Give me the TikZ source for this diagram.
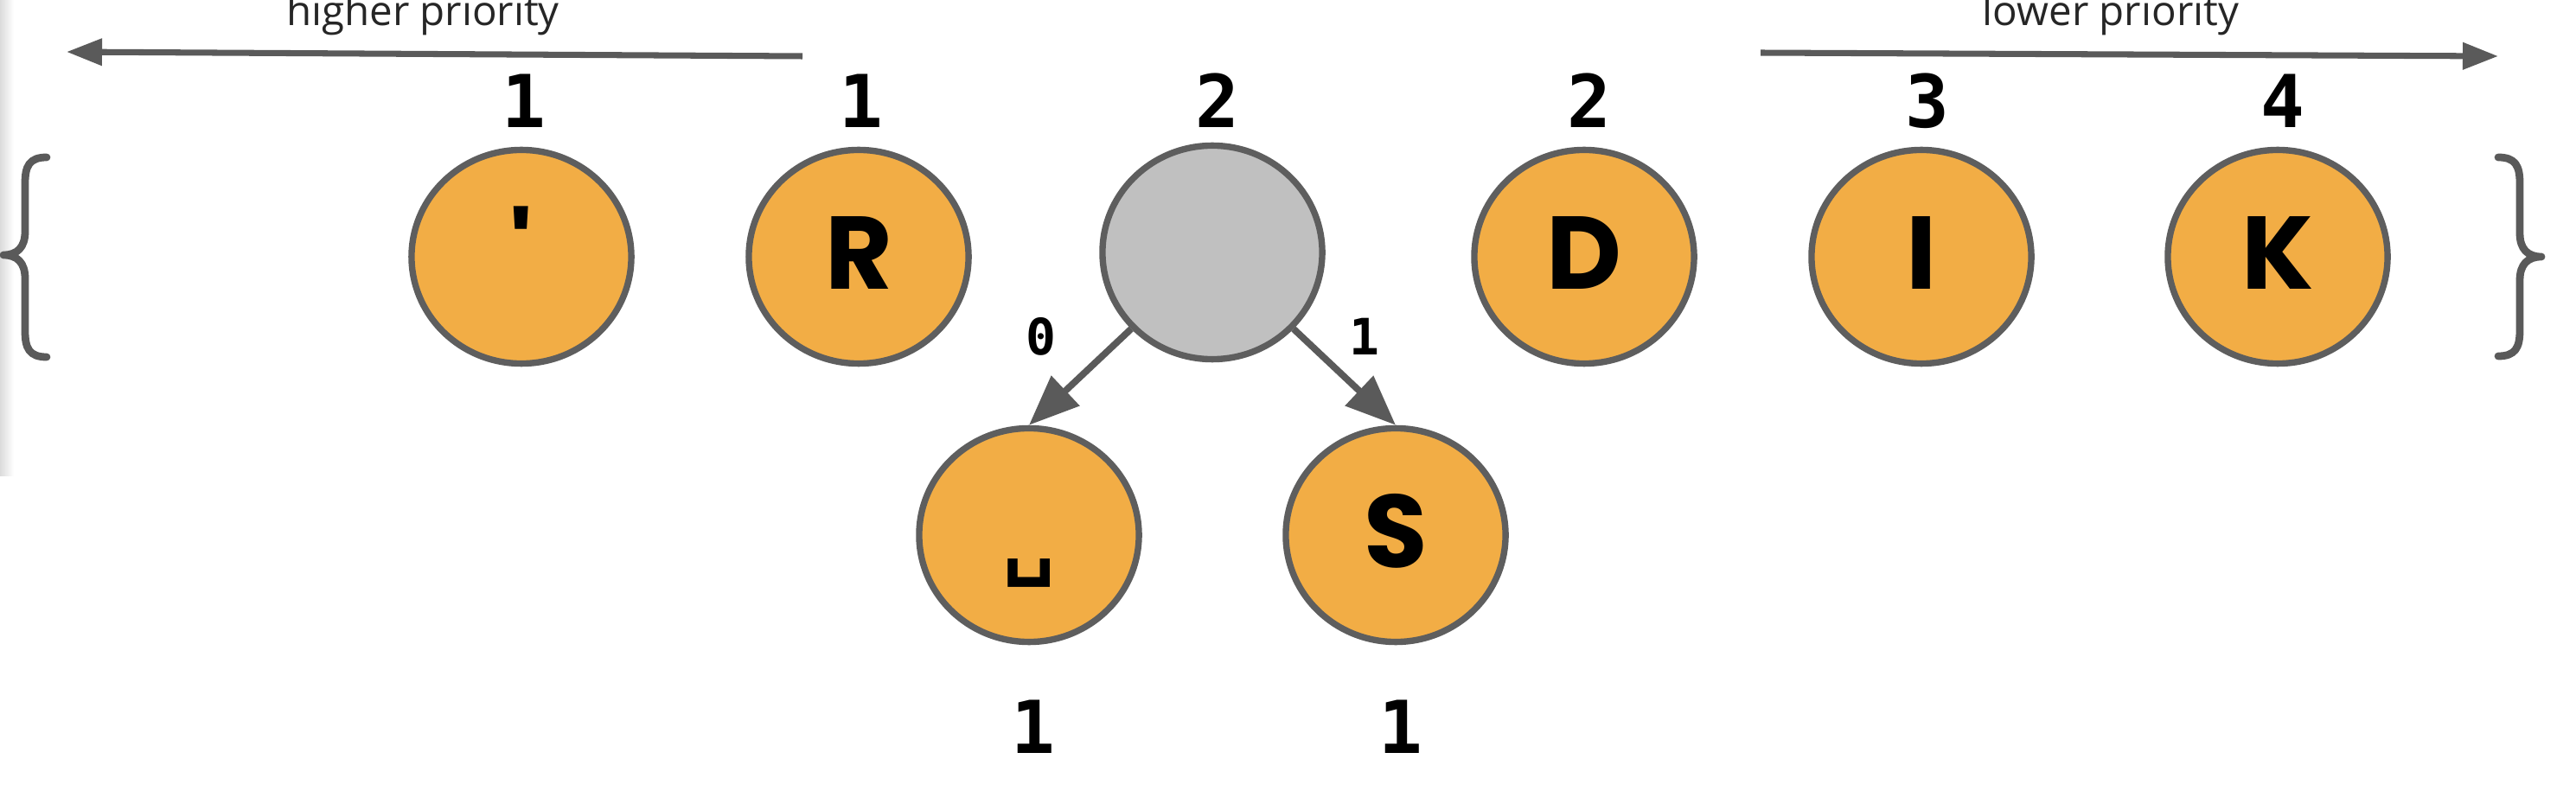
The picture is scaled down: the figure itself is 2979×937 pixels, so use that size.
\documentclass[tikz,border=0pt]{standalone}
\usepackage{fontspec}
\usetikzlibrary{arrows.meta,shapes.geometric}
\newfontfamily\letterfont{Poppins}[Ligatures=TeXOff]
\newfontfamily\numfont{DejaVu Sans Mono}
\newfontfamily\labelfont{Open Sans}
\definecolor{nodeorange}{HTML}{F2AD45}
\definecolor{nodegray}{HTML}{C0C0C0}
\definecolor{outline}{HTML}{5E5E5E}
\definecolor{arrowgray}{HTML}{5A5A5A}
\tikzset{
  leaf/.style={ellipse, draw=outline, line width=2.1pt, fill=nodeorange,
    minimum width=2.54cm, minimum height=2.47cm, inner sep=0pt,
    font=\letterfont\bfseries\fontsize{34}{34}\selectfont,
    text height=21.5pt, text depth=0pt},
  internal/.style={leaf, fill=nodegray},
  count/.style={font=\numfont\bfseries\fontsize{24}{24}\selectfont, anchor=base, inner sep=0pt},
  bitlabel/.style={font=\numfont\bfseries\fontsize{16.5}{16.5}\selectfont, anchor=base, inner sep=0pt},
  priority/.style={font=\labelfont\fontsize{13.5}{13.5}\selectfont, anchor=base, inner sep=0pt, text=black!85},
  treearrow/.style={draw=arrowgray, line width=2.2pt, -{Triangle[length=0.58cm,width=0.46cm]}},
  prioarrow/.style={draw=arrowgray, line width=2pt, -{Triangle[length=0.41cm,width=0.30cm]}},
  setbrace/.style={draw=arrowgray, line width=2.5pt, line cap=round, line join=round},
}
\begin{document}
\begin{tikzpicture}[x=0.01cm, y=-0.01cm]
\useasboundingbox (0,0) rectangle (2979,937);
% window edge strip
\shade[left color=black!14, right color=white] (0,0) rectangle (16,550);
% priority arrows
\node[priority] (hp) at (489,30) {higher priority};
\node[priority] (lp) at (2441,30) {lower priority};
\coordinate (hpstart) at (928,65);
\coordinate (hpend) at (77,60);
\coordinate (lpstart) at (2036,61);
\coordinate (lpend) at (2889,65);
\draw[prioarrow] (hpstart) -- (hpend);
\draw[prioarrow] (lpstart) -- (lpend);
% braces
\draw[setbrace] (54,182) .. controls (34,182) and (29,192) .. (29,212) -- (29,268)
   .. controls (29,286) and (20,295) .. (4,295)
   .. controls (20,295) and (29,304) .. (29,322) -- (29,383)
   .. controls (29,403) and (34,413) .. (54,413);
\draw[setbrace] (2889,182) .. controls (2909,182) and (2914,192) .. (2914,212) -- (2914,270)
   .. controls (2914,288) and (2923,297) .. (2939,297)
   .. controls (2923,297) and (2914,306) .. (2914,324) -- (2914,382)
   .. controls (2914,402) and (2909,412) .. (2889,412);
% nodes
\node[leaf] (apos) at (603,297) {\textquotesingle};
\node[leaf] (R) at (993,297) {R};
\node[internal] (int) at (1402,292) {};
\node[leaf] (D) at (1832,297) {D};
\node[leaf] (I) at (2222,297) {I};
\node[leaf] (K) at (2634,297) {K};
\node[leaf] (space) at (1190,619) {{\numfont\bfseries\fontsize{28}{28}\selectfont ␣}};
\node[leaf] (S) at (1614,619) {S};
% counts
\node[count] (capos) at (606,148) {1};
\node[count] (cR) at (996,148) {1};
\node[count] (cint) at (1408,148) {2};
\node[count] (cD) at (1838,148) {2};
\node[count] (cI) at (2229,148) {3};
\node[count] (cK) at (2640,148) {4};
\node[count] (cspace) at (1195,871) {1};
\node[count] (cS) at (1620,871) {1};
% tree edges
\draw[treearrow] (int) -- (space.north);
\draw[treearrow] (int) -- (S.north);
\node[bitlabel] (b0) at (1204,410) {0};
\node[bitlabel] (b1) at (1578,410) {1};
\end{tikzpicture}
\end{document}
